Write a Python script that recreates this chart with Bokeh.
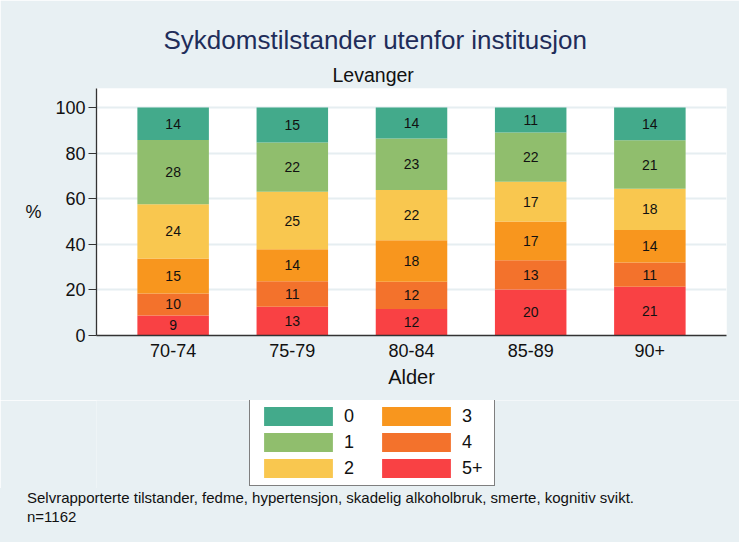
import numpy as np
from bokeh.plotting import figure
from bokeh.layouts import column
from bokeh.models import (FactorRange, Range1d, FixedTicker, Legend, LegendItem,
                          Title, LinearAxis, Div, ColumnDataSource)
from bokeh.core.properties import value
from bokeh.embed import file_html
from bokeh.resources import INLINE

# ---- data ----
ages = ["70-74", "75-79", "80-84", "85-89", "90+"]
groups = ["5+", "4", "3", "2", "1", "0"]          # bottom -> top
legend_order = ["0", "1", "2", "3", "4", "5+"]
v_5p = [8.8, 12.6, 11.6, 20.2, 21.4]
v_4 = [9.6, 11.2, 12.0, 12.8, 10.6]
v_3 = [15.4, 14.0, 18.2, 17.0, 14.3]
v_2 = [23.7, 25.2, 22.0, 17.4, 18.0]
v_1 = [28.2, 21.6, 22.6, 21.6, 21.3]
v_0 = [14.3, 15.4, 13.6, 11.0, 14.4]
y_ticks = [0, 20, 40, 60, 80, 100]
colors = {"0": "#43aa8b", "1": "#90be6d", "2": "#f9c74f",
          "3": "#f8961e", "4": "#f3722c", "5+": "#f94144"}

title_text = "Sykdomstilstander utenfor institusjon"
subtitle_text = "Levanger"
y_label = "%"
note1 = "Selvrapporterte tilstander, fedme, hypertensjon, skadelig alkoholbruk, smerte, kognitiv svikt."
note2 = "n=1162"

FONT = "Liberation Sans"
BG = "#e8f0f3"
INK = "#111111"
W = 739

series = {"5+": v_5p, "4": v_4, "3": v_3, "2": v_2, "1": v_1, "0": v_0}
data = {"age": ages}
data.update(series)
src = ColumnDataSource(data)

p = figure(x_range=FactorRange(factors=ages, range_padding=0.143,
                               range_padding_units="absolute"),
           y_range=Range1d(0, 108.3),
           frame_width=630, frame_height=247,
           min_border_left=96, min_border_right=13,
           min_border_top=88, min_border_bottom=65,
           output_backend="svg", toolbar_location=None,
           background_fill_color="white", border_fill_color=BG,
           outline_line_color=None)

rs = p.vbar_stack(groups, x="age", width=0.6, source=src,
                  color=[colors[g] for g in groups], line_color=None)

# segment labels
bottom = np.zeros(len(ages))
lx, ly, lt = [], [], []
for g in groups:
    vals = np.array(series[g])
    mids = bottom + vals / 2
    for a, m, v in zip(ages, mids, vals):
        lx.append(a); ly.append(m); lt.append(str(int(round(v))))
    bottom = bottom + vals
p.text(x=lx, y=ly, text=lt, text_font=value(FONT), text_font_size="14px",
       text_align="center", text_baseline="middle", text_color=INK)

# axes
p.yaxis.ticker = FixedTicker(ticks=y_ticks)
p.yaxis.major_tick_out = 8
p.yaxis.major_tick_in = 0
p.yaxis.minor_tick_line_color = None
p.yaxis.major_label_standoff = 3
p.yaxis.major_label_text_font_size = "18px"
p.yaxis.major_label_text_font = FONT
p.yaxis.major_label_text_color = INK
p.yaxis.axis_line_color = "#333333"
p.yaxis.major_tick_line_color = "#333333"
p.yaxis.axis_line_width = 1.3

# horizontal "%" label as an extra left axis with a single labelled tick
pct_axis = LinearAxis(ticker=FixedTicker(ticks=[54]),
                      major_label_overrides={54: y_label},
                      axis_line_color=None, major_tick_line_color=None,
                      minor_tick_line_color=None, major_tick_out=0,
                      major_label_standoff=11,
                      major_label_text_font=FONT,
                      major_label_text_font_size="18px",
                      major_label_text_color=INK)
p.add_layout(pct_axis, "left")

p.xaxis.major_tick_out = 0
p.xaxis.major_tick_in = 0
p.xaxis.major_label_standoff = 8
p.xaxis.major_label_text_font_size = "18px"
p.xaxis.major_label_text_font = FONT
p.xaxis.major_label_text_color = INK
p.xaxis.axis_label = "Alder"
p.xaxis.axis_label_text_font = FONT
p.xaxis.axis_label_text_font_size = "20px"
p.xaxis.axis_label_text_font_style = "normal"
p.xaxis.axis_label_text_color = INK
p.xaxis.axis_label_standoff = 6
p.xaxis.axis_line_color = "#333333"
p.xaxis.axis_line_width = 1.3

p.xgrid.grid_line_color = None
p.ygrid.ticker = FixedTicker(ticks=y_ticks)
p.ygrid.grid_line_color = "#e6eef1"
p.ygrid.grid_line_width = 2

# titles: main title outermost, subtitle next to the plot
p.title.text = title_text
p.title.align = "left"
p.title.offset = 67
p.title.text_font = FONT
p.title.text_font_size = "26px"
p.title.text_font_style = "normal"
p.title.text_color = "#1f2d5a"
p.title.standoff = 8
p.add_layout(Title(text=subtitle_text, align="left", offset=236, text_font=FONT,
                   text_font_size="19.5px", text_font_style="normal",
                   text_color=INK, standoff=6), "above")

# ---- legend strip ----
H2 = 88
p2 = figure(x_range=Range1d(0, 1), y_range=Range1d(0, 1),
            frame_width=W, frame_height=H2,
            min_border=0, x_axis_location=None, y_axis_location=None,
            output_backend="svg", toolbar_location=None,
            background_fill_color=BG, border_fill_color=BG,
            outline_line_color=None)
p2.grid.visible = False

swatch = {}
for g in legend_order:
    # placeholder glyphs outside the visible range, used only for legend swatches
    swatch[g] = p2.vbar(x=[-5], top=[-5], bottom=[-6], width=0.1,
                        color=colors[g], line_color=None)

items = [LegendItem(label=g, renderers=[swatch[g]]) for g in legend_order]
legend = Legend(items=items, orientation="vertical", nrows=3,
                location=(249, 2), glyph_width=86, glyph_height=24,
                label_standoff=3, spacing=2, padding=5, margin=0,
                label_text_font=FONT, label_text_font_size="18px",
                label_text_color=INK, label_height=19, label_width=27,
                border_line_color="black", border_line_width=1,
                background_fill_color="white", background_fill_alpha=1)
p2.add_layout(legend, "center")

# ---- footnote ----
note = Div(text=note1 + "<br>" + note2, width=W, height=54,
           styles={"background-color": BG, "font-family": "'Liberation Sans'",
                   "font-size": "15px", "line-height": "19px", "color": INK,
                   "padding-left": "27px", "box-sizing": "border-box",
                   "margin": "0px"})

layout = column(p, p2, note, spacing=0)
open("out.html", "w").write(file_html(layout, INLINE))
